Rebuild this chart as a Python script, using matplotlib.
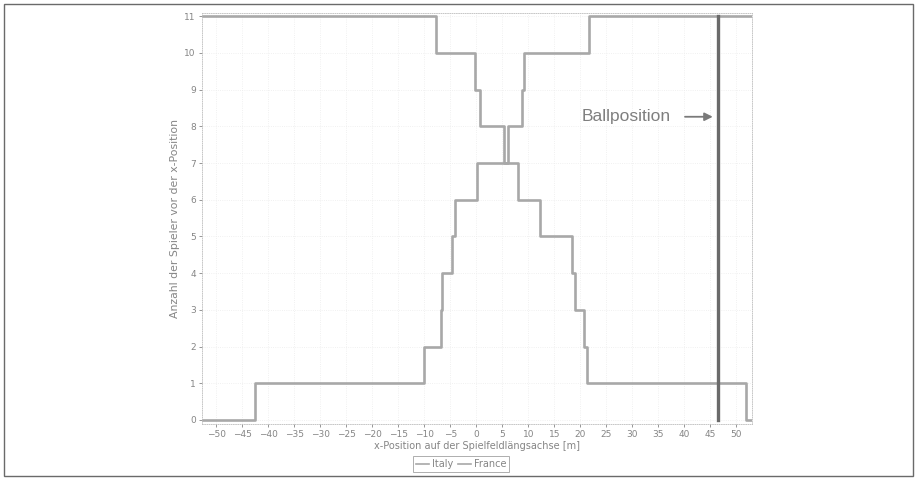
import matplotlib
matplotlib.use('Agg')
import matplotlib.pyplot as plt
from matplotlib.patches import Rectangle

# step positions along the pitch [m] and number of players in front of them
italy_x = [-52.7, -7.7, -0.2, 0.8, 5.25, 8.1, 12.2, 18.4, 18.9, 20.8, 21.3, 51.9, 53.0]
italy_n = [11, 10, 9, 8, 7, 6, 5, 4, 3, 2, 1, 0, 0]

france_x = [-52.7, -42.5, -10.1, -6.7, -6.5, -4.7, -4.0, 0.1, 6.2, 8.8, 9.2, 21.6, 53.0]
france_n = [0, 1, 2, 3, 4, 5, 6, 7, 8, 9, 10, 11, 11]

ball_x = 46.4
x_ticks = list(range(-50, 55, 5))
y_ticks = list(range(0, 12))

grey_line = '#a8a8a8'
grey_text = '#858585'

fig = plt.figure(figsize=(9.15, 4.78), dpi=100)
ax = fig.add_axes([0.2208, 0.113, 0.601, 0.8608])

ax.step(italy_x, italy_n, where='post', color=grey_line, lw=1.9, label='Italy')
ax.step(france_x, france_n, where='post', color=grey_line, lw=1.9, label='France')
ax.plot([ball_x, ball_x], [0, 11], color='#6a6a6a', lw=2.4)

ax.annotate('', xy=(ball_x - 0.4, 8.26), xytext=(39.6, 8.26),
            arrowprops=dict(arrowstyle='-|>', color='#7a7a7a', lw=1.3,
                            mutation_scale=12))
ax.text(20.3, 8.26, 'Ballposition', family='Liberation Sans', fontsize=12.5,
        color='#7f7f7f', va='center', ha='left')

ax.set_xlim(-52.7, 53.0)
ax.set_ylim(-0.11, 11.1)
ax.set_xticks(x_ticks)
ax.set_yticks(y_ticks)
ax.tick_params(labelsize=6.5, colors=grey_text, length=2, width=0.6, pad=2.5)
ax.grid(True, color='#ececec', lw=0.6, ls=':')
for s in ax.spines.values():
    s.set_color('#bdbdbd')
    s.set_linewidth(0.6)
    s.set_linestyle(':')

ax.set_xlabel('x-Position auf der Spielfeldlängsachse [m]', fontsize=7,
              color=grey_text, labelpad=1)
ax.set_ylabel('Anzahl der Spieler vor der x-Position', fontsize=7.8,
              color=grey_text, labelpad=3)

leg = fig.legend(loc='center', bbox_to_anchor=(0.504, 0.029), ncol=2,
                 fontsize=7, handlelength=1.3, handletextpad=0.3,
                 columnspacing=0.5, borderpad=0.3, fancybox=False,
                 edgecolor='#9a9a9a', labelcolor=grey_text)
leg.get_frame().set_linewidth(0.7)
for h in leg.get_lines():
    h.set_linewidth(1.2)

# scanned page frame
fig.patches.append(Rectangle((0.004, 0.004), 0.994, 0.988, transform=fig.transFigure,
                             fill=False, edgecolor='#6a6a6a', lw=1.0))

fig.savefig('out.png', dpi=100)
